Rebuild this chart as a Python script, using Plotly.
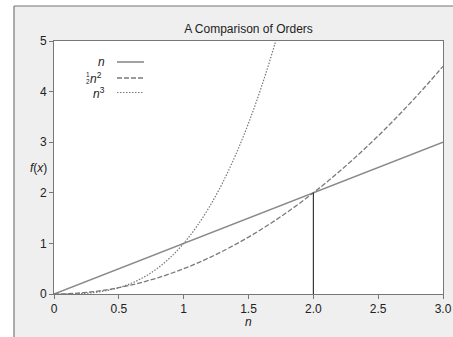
import plotly.graph_objects as go

# Data
lin_x = [0, 3.0]
lin_y = [0, 3.0]
half_sq_x = [0, 0.1, 0.2, 0.3, 0.4, 0.5, 0.6, 0.7, 0.8, 0.9, 1.0, 1.1, 1.2, 1.3, 1.4, 1.5,
             1.6, 1.7, 1.8, 1.9, 2.0, 2.1, 2.2, 2.3, 2.4, 2.5, 2.6, 2.7, 2.8, 2.9, 3.0]
half_sq_y = [0, 0.005, 0.02, 0.045, 0.08, 0.125, 0.18, 0.245, 0.32, 0.405, 0.5, 0.605, 0.72,
             0.845, 0.98, 1.125, 1.28, 1.445, 1.62, 1.805, 2.0, 2.205, 2.42, 2.645, 2.88,
             3.125, 3.38, 3.645, 3.92, 4.205, 4.5]
cube_x = [0, 0.1, 0.2, 0.3, 0.4, 0.5, 0.6, 0.7, 0.8, 0.9, 1.0, 1.1, 1.2, 1.3, 1.4, 1.5,
          1.6, 1.7, 1.8]
cube_y = [0, 0.001, 0.008, 0.027, 0.064, 0.125, 0.216, 0.343, 0.512, 0.729, 1.0, 1.331,
          1.728, 2.197, 2.744, 3.375, 4.096, 4.913, 5.832]
marker_x = [2.0, 2.0]
marker_y = [0, 2.0]
x_tickvals = [0, 0.5, 1, 1.5, 2, 2.5, 3]
x_ticktext = ["0", "0.5", "1", "1.5", "2.0", "2.5", "3.0"]
y_tickvals = [0, 1, 2, 3, 4, 5]

SOLID = dict(color="#8a8a8a", width=1.6)
DASHED = dict(color="#7a7a7a", width=1.3, dash="5px,2px")
DOTTED = dict(color="#777777", width=1.2, dash="1.5px,1.5px")

fig = go.Figure()
fig.add_trace(go.Scatter(x=lin_x, y=lin_y, mode="lines", line=SOLID))
fig.add_trace(go.Scatter(x=half_sq_x, y=half_sq_y, mode="lines", line_shape="spline",
                         line=DASHED))
fig.add_trace(go.Scatter(x=cube_x, y=cube_y, mode="lines", line_shape="spline",
                         line=DOTTED))
fig.add_trace(go.Scatter(x=marker_x, y=marker_y, mode="lines",
                         line=dict(color="#111111", width=1)))

W, H = 453, 337
ML, MR, MT, MB = 54, 10, 41, 43
PW, PH = W - ML - MR, H - MT - MB


def px_x(p):
    return (p - ML) / PW


def px_y(p):
    return (H - MB - p) / PH


font = "Liberation Sans, Arial, sans-serif"
fig.update_layout(
    width=W, height=H, autosize=False,
    margin=dict(l=ML, r=MR, t=MT, b=MB, autoexpand=False),
    paper_bgcolor="#efefef", plot_bgcolor="white",
    showlegend=False,
    font=dict(family=font, size=12, color="#222"),
    title=dict(text="A Comparison of Orders", x=0.5, xref="paper", xanchor="center",
               y=1 - 29 / H, yref="container", yanchor="middle", automargin=False,
               font=dict(size=12, color="#222", family=font)),
)
fig.update_xaxes(range=[0, 3], tickvals=x_tickvals, ticktext=x_ticktext, automargin=False,
                 showgrid=False, zeroline=False, showline=True, linecolor="#777",
                 linewidth=1, mirror=True, ticks="outside", ticklen=4, tickcolor="#777")
fig.update_yaxes(range=[0, 5], tickvals=y_tickvals, automargin=False,
                 showgrid=False, zeroline=False, showline=True, linecolor="#777",
                 linewidth=1, mirror=True, ticks="outside", ticklen=4, tickcolor="#777")

# white strips outside the outer panel + its border lines (left & top)
bx, by = px_x(14), px_y(6)
fig.add_shape(type="rect", xref="paper", yref="paper", x0=-0.3, x1=bx, y0=-0.3, y1=1.3,
              fillcolor="white", line=dict(width=0), layer="below")
fig.add_shape(type="rect", xref="paper", yref="paper", x0=-0.3, x1=1.3, y0=by, y1=1.3,
              fillcolor="white", line=dict(width=0), layer="below")
fig.add_shape(type="line", xref="paper", yref="paper", x0=bx, x1=bx, y0=-0.3, y1=by,
              line=dict(color="#777", width=1.2))
fig.add_shape(type="line", xref="paper", yref="paper", x0=bx, x1=1.3, y0=by, y1=by,
              line=dict(color="#777", width=1.2))

# axis titles
fig.add_annotation(text="<i>n</i>", xref="paper", yref="paper", x=0.5, y=px_y(322),
                   yanchor="middle", showarrow=False, font=dict(size=12, color="#222"))
fig.add_annotation(text="<i>f</i>(<i>x</i>)", xref="paper", yref="paper", x=px_x(28),
                   y=px_y(168), yanchor="middle", showarrow=False,
                   font=dict(size=12, color="#222"))

# custom legend: label on left, line sample on right
lx = px_x(107)
rows = [px_y(62), px_y(78), px_y(92.5)]
fig.add_annotation(text="<i>n</i>", xref="paper", yref="paper", x=lx, y=rows[0],
                   xanchor="right", yanchor="middle", showarrow=False,
                   font=dict(size=12, color="#222"))
fig.add_annotation(text="<i>n</i><sup>2</sup>", xref="paper", yref="paper", x=px_x(104),
                   y=rows[1], xanchor="right", yanchor="middle", showarrow=False,
                   font=dict(size=12, color="#222"))
fig.add_annotation(text="1", xref="paper", yref="paper", x=px_x(92), y=px_y(74),
                   xanchor="right", yanchor="middle", showarrow=False,
                   font=dict(size=6.5, color="#222"))
fig.add_annotation(text="2", xref="paper", yref="paper", x=px_x(92), y=px_y(82),
                   xanchor="right", yanchor="middle", showarrow=False,
                   font=dict(size=6.5, color="#222"))
fig.add_annotation(text="<i>n</i><sup>3</sup>", xref="paper", yref="paper", x=lx, y=rows[2],
                   xanchor="right", yanchor="middle", showarrow=False,
                   font=dict(size=12, color="#222"))
for ry, st in zip(rows, [SOLID, DASHED, DOTTED]):
    fig.add_shape(type="line", xref="paper", yref="paper", x0=px_x(117), x1=px_x(144),
                  y0=ry, y1=ry, line=st)

fig.write_html("out.html",
               config={"responsive": False, "displayModeBar": False},
               post_script="document.body.style.margin='0';document.body.style.overflow='hidden';")
